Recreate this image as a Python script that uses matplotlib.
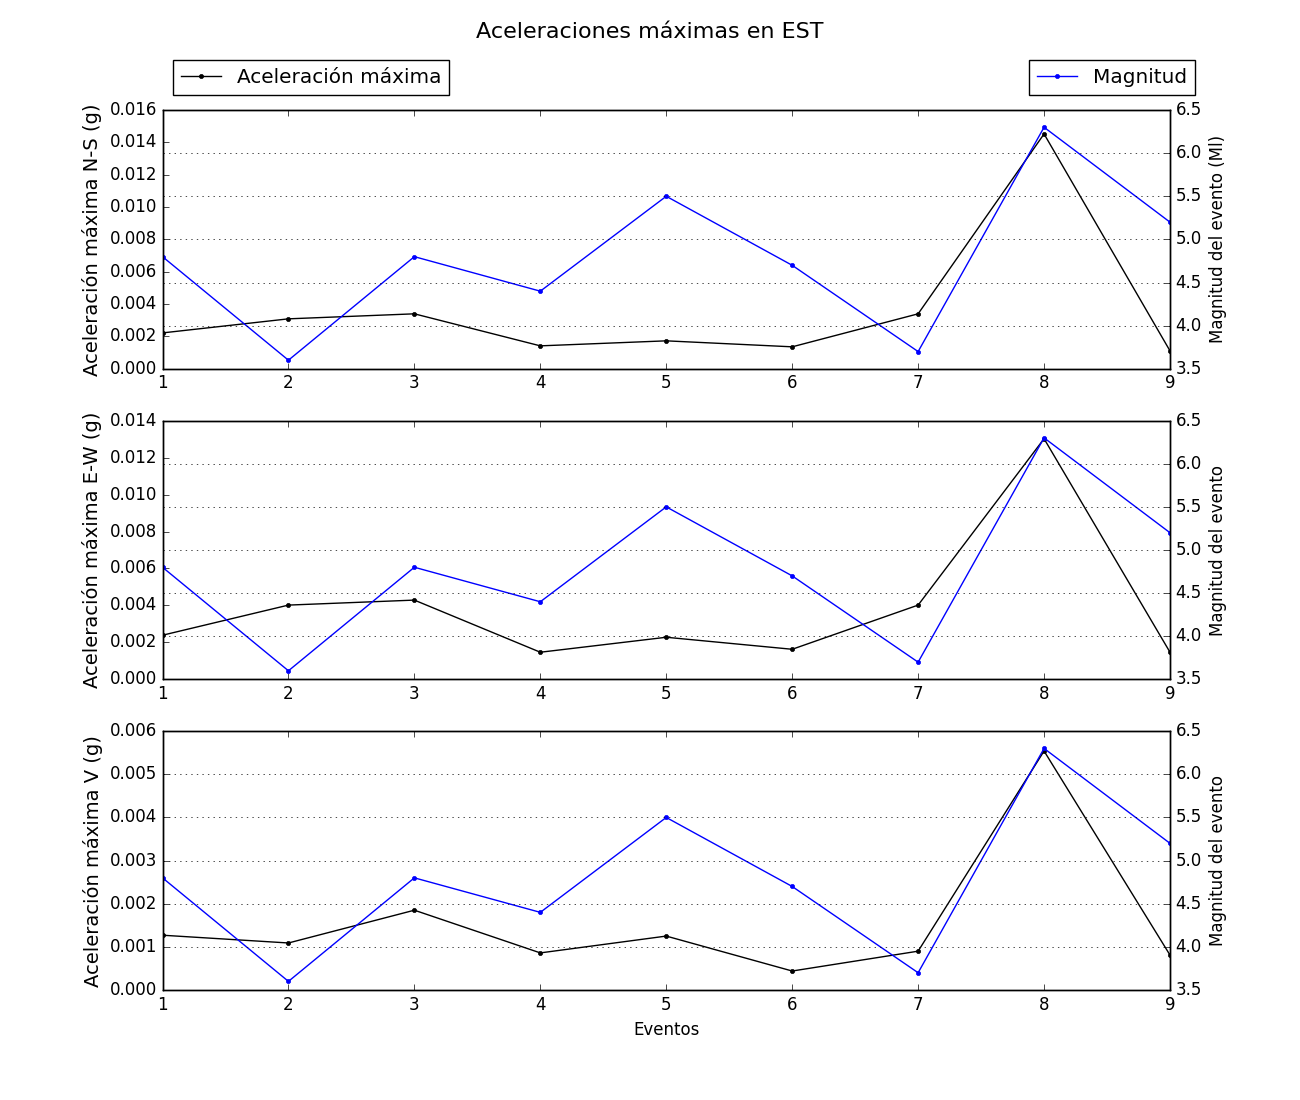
import matplotlib
matplotlib.use("Agg")
import matplotlib.pyplot as plt

plt.style.use("classic")

eventos = [1, 2, 3, 4, 5, 6, 7, 8, 9]
magnitud = [4.8, 3.6, 4.8, 4.4, 5.5, 4.7, 3.7, 6.3, 5.2]
acel_ns = [0.00222, 0.00309, 0.00340, 0.00142, 0.00173, 0.00136, 0.00340, 0.01452, 0.00111]
acel_ew = [0.00239, 0.00402, 0.00429, 0.00147, 0.00228, 0.00163, 0.00402, 0.01302, 0.00147]
acel_v = [0.00127, 0.00109, 0.00185, 0.00086, 0.00125, 0.00044, 0.00090, 0.00554, 0.00081]

acels = [acel_ns, acel_ew, acel_v]
left_labels = ["Aceleración máxima N-S (g)", "Aceleración máxima E-W (g)", "Aceleración máxima V (g)"]
right_labels = ["Magnitud del evento (Ml)", "Magnitud del evento", "Magnitud del evento"]
ylims = [(0, 0.016), (0, 0.014), (0, 0.006)]

fig, axes = plt.subplots(3, 1, figsize=(13, 11), dpi=100)
fig.subplots_adjust(left=0.125, right=0.9, bottom=0.1, top=0.9, hspace=0.2)
fig.suptitle("Aceleraciones máximas en EST", fontsize=16, y=0.98)

for i, ax in enumerate(axes):
    l1, = ax.plot(eventos, acels[i], color="black", marker=".", markersize=6,
                  linewidth=1, label="Aceleración máxima")
    ax.set_xlim(1, 9)
    ax.set_ylim(*ylims[i])
    ax.set_ylabel(left_labels[i], fontsize=14)
    ax.yaxis.set_major_formatter(matplotlib.ticker.FormatStrFormatter("%.3f"))
    ax2 = ax.twinx()
    l2, = ax2.plot(eventos, magnitud, color="blue", marker=".", markersize=6,
                   linewidth=1, label="Magnitud")
    ax2.set_ylim(3.5, 6.5)
    ax2.set_xlim(1, 9)
    ax2.set_ylabel(right_labels[i], fontsize=12)
    ax2.grid(True, axis="y", linestyle=":", color="black")
    if i == 0:
        ax.legend(handles=[l1], loc="lower left", bbox_to_anchor=(0.01, 1.058),
                  borderaxespad=0, fontsize=14.4, numpoints=1)
        ax2.legend(handles=[l2], loc="lower right", bbox_to_anchor=(1.025, 1.058),
                   borderaxespad=0, fontsize=14.4, numpoints=1)
    if i == 2:
        ax.set_xlabel("Eventos", fontsize=12)

fig.savefig("out.png", dpi=100)
